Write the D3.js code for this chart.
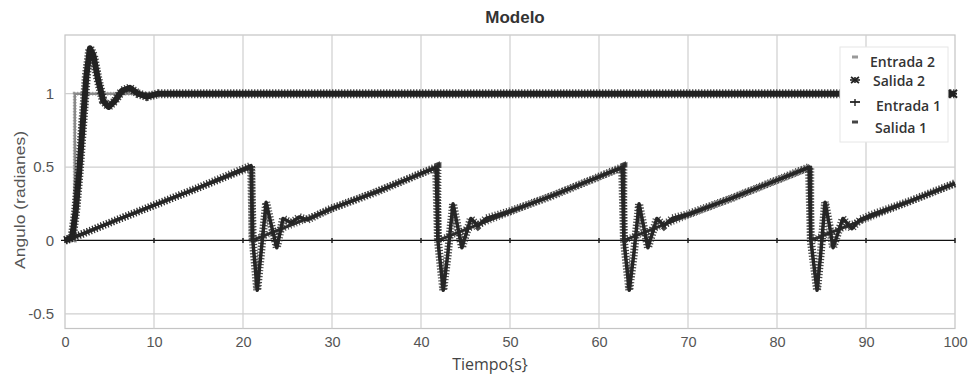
<!DOCTYPE html>
<html>
<head>
<meta charset="utf-8">
<script src="https://cdn.jsdelivr.net/npm/d3@7/dist/d3.min.js"></script>
<style>
  html, body { margin: 0; padding: 0; background: #fff; }
  svg { display: block; }
</style>
</head>
<body>
<svg id="chart" width="970" height="375"></svg>
<script>
// Axis ticks
const xTicks = [0, 10, 20, 30, 40, 50, 60, 70, 80, 90, 100];
const yTicks = [-0.5, 0, 0.5, 1];

// Series as [tiempo (s), ángulo (rad)]
const entrada2 = [[0, 0], [1.1, 0], [1.1, 1], [100, 1]];

const salida2 = [
  [0, 0], [0.8, 0.02], [1.2, 0.2], [1.6, 0.47], [2.0, 0.8], [2.4, 1.12], [2.8, 1.31],
  [3.2, 1.26], [3.7, 1.1], [4.3, 0.95], [4.9, 0.91], [5.6, 0.95], [6.4, 1.02],
  [7.3, 1.04], [8.2, 1.0], [9.2, 0.98], [10.5, 1.0], [100, 1.0]
];

const entrada1 = [
  [0, 0], [21.0, 0.5], [21.0, 0], [41.9, 0.5], [41.9, 0],
  [62.8, 0.5], [62.8, 0], [83.8, 0.5], [83.8, 0], [100, 0.386]
];

const salida1 = [
  [0, 0], [1, 0.02], [5, 0.12], [10, 0.24], [15, 0.36], [20.9, 0.51],
  [21.1, 0.0], [21.6, -0.34], [22.0, -0.1], [22.6, 0.26], [23.2, 0.1], [23.8, -0.05],
  [24.5, 0.15], [25.4, 0.12], [26.3, 0.16], [27.2, 0.14], [30, 0.22], [35, 0.33], [41.7, 0.5],
  [41.9, 0.0], [42.5, -0.34], [43.0, -0.1], [43.6, 0.25], [44.1, 0.1], [44.6, -0.05],
  [45.6, 0.15], [46.4, 0.1], [47.3, 0.15], [50, 0.2], [55, 0.31], [62.6, 0.5],
  [62.8, 0.0], [63.4, -0.34], [63.9, -0.1], [64.5, 0.25], [65.0, 0.1], [65.5, -0.05],
  [66.5, 0.15], [67.3, 0.1], [68.2, 0.15], [70, 0.18], [75, 0.29], [83.6, 0.5],
  [83.8, 0.0], [84.5, -0.34], [84.9, -0.1], [85.4, 0.26], [85.9, 0.1], [86.3, -0.05],
  [87.4, 0.15], [88.4, 0.08], [89.3, 0.14], [90.4, 0.17], [95, 0.27], [100, 0.39]
];

const legendItems = ["Entrada 2", "Salida 2", "Entrada 1", "Salida 1"];

const svg = d3.select("#chart");
const plot = { left: 65, right: 955, top: 35, bottom: 328.5 };

const x = d3.scaleLinear().domain([0, 100]).range([plot.left, plot.right]);
const y = d3.scaleLinear().domain([-0.6, 1.4]).range([plot.bottom, plot.top]);

// Title
svg.append("text")
  .attr("x", 515).attr("y", 23)
  .attr("text-anchor", "middle")
  .attr("font-family", "Liberation Sans, Arial, sans-serif")
  .attr("font-weight", "bold").attr("font-size", 17)
  .attr("fill", "#333")
  .text("Modelo");

// Plot frame
svg.append("rect")
  .attr("x", plot.left).attr("y", plot.top)
  .attr("width", plot.right - plot.left).attr("height", plot.bottom - plot.top)
  .attr("fill", "#fff").attr("stroke", "#c4c4c4").attr("stroke-width", 1.2);

// Gridlines
const grid = svg.append("g");
grid.selectAll("line.vx").data(xTicks.slice(1, -1)).join("line")
  .attr("x1", d => x(d)).attr("x2", d => x(d))
  .attr("y1", plot.top).attr("y2", plot.bottom)
  .attr("stroke", "#cfcfcf").attr("stroke-width", 1.2);
grid.selectAll("line.hy").data(yTicks.filter(d => d !== 0)).join("line")
  .attr("x1", plot.left).attr("x2", plot.right)
  .attr("y1", d => y(d)).attr("y2", d => y(d))
  .attr("stroke", "#cfcfcf").attr("stroke-width", 1.2);

// Tick labels
const tickFont = "Liberation Sans, Arial, sans-serif";
const xAxis = svg.append("g")
  .attr("transform", `translate(0,${plot.bottom})`)
  .call(d3.axisBottom(x).tickValues(xTicks).tickSize(0).tickPadding(8).tickFormat(d3.format("d")));
xAxis.select(".domain").remove();
xAxis.selectAll("text").attr("font-family", tickFont).attr("font-size", 14.5).attr("fill", "#555");

const yAxis = svg.append("g")
  .attr("transform", `translate(${plot.left},0)`)
  .call(d3.axisLeft(y).tickValues(yTicks).tickSize(0).tickPadding(11).tickFormat(d => String(d)));
yAxis.select(".domain").remove();
yAxis.selectAll("text").attr("font-family", tickFont).attr("font-size", 15).attr("fill", "#555");

// Horizontal axis line at zero with small tick marks
svg.append("line")
  .attr("x1", plot.left - 4).attr("x2", plot.right)
  .attr("y1", y(0)).attr("y2", y(0))
  .attr("stroke", "#111").attr("stroke-width", 1.3);
svg.append("g").selectAll("line").data(xTicks).join("line")
  .attr("x1", d => x(d)).attr("x2", d => x(d))
  .attr("y1", y(0) - 2.5).attr("y2", y(0) + 2.5)
  .attr("stroke", "#222").attr("stroke-width", 1.5);

// Axis titles
svg.append("text")
  .attr("x", 490).attr("y", 370)
  .attr("text-anchor", "middle")
  .attr("font-family", "Open Sans, sans-serif").attr("font-size", 16)
  .attr("fill", "#444")
  .text("Tiempo{s}");
svg.append("text")
  .attr("transform", "translate(25,200) rotate(-90)")
  .attr("text-anchor", "middle")
  .attr("font-family", tickFont).attr("font-size", 15)
  .attr("textLength", 138).attr("lengthAdjust", "spacingAndGlyphs")
  .attr("fill", "#555")
  .text("Angulo (radianes)");

// Series: a core line plus a dense dash pattern that reads as packed markers
const line = d3.line().x(d => x(d[0])).y(d => y(d[1]));
const series = svg.append("g");

function drawSeries(data, core, marks) {
  series.append("path").datum(data).attr("d", line)
    .attr("fill", "none").attr("stroke", core.color)
    .attr("stroke-width", core.width).attr("stroke-linejoin", "round");
  series.append("path").datum(data).attr("d", line)
    .attr("fill", "none").attr("stroke", marks.color)
    .attr("stroke-width", marks.width).attr("stroke-dasharray", marks.dash)
    .attr("stroke-opacity", marks.opacity);
}

drawSeries(entrada2, { color: "#8a8a8a", width: 2.5 }, { color: "#8a8a8a", width: 4, dash: "1 2", opacity: 0.8 });
drawSeries(entrada1, { color: "#2e2e2e", width: 3 }, { color: "#2e2e2e", width: 7, dash: "1 2", opacity: 0.85 });
drawSeries(salida1, { color: "#262626", width: 3.5 }, { color: "#262626", width: 8, dash: "1.2 1.8", opacity: 0.85 });
drawSeries(salida2, { color: "#222", width: 6 }, { color: "#222", width: 9, dash: "1.3 1.7", opacity: 0.85 });

// Legend
const legend = svg.append("g");
legend.append("rect")
  .attr("x", 840).attr("y", 47).attr("width", 108).attr("height", 95)
  .attr("fill", "#fff").attr("stroke", "#e6e6e6");

const legendY = [62, 81, 106, 128];
const legendX = [870, 873, 876, 875];
legend.selectAll("text.item").data(legendItems).join("text")
  .attr("x", (d, i) => legendX[i]).attr("y", (d, i) => legendY[i] + 5)
  .attr("font-family", "Open Sans, sans-serif").attr("font-weight", 600).attr("font-size", 14)
  .attr("fill", "#333")
  .text(d => d);

// Legend symbols
const sx = 855;
legend.append("line").attr("x1", sx - 3).attr("x2", sx + 3).attr("y1", 57).attr("y2", 57)
  .attr("stroke", "#999").attr("stroke-width", 3);
const star = legend.append("g").attr("transform", `translate(${sx},80)`);
[[-5, 0, 5, 0], [-4, -3, 4, 3], [-4, 3, 4, -3], [0, -3, 0, 3]].forEach(s =>
  star.append("line").attr("x1", s[0]).attr("y1", s[1]).attr("x2", s[2]).attr("y2", s[3])
    .attr("stroke", "#222").attr("stroke-width", 1.6));
legend.append("line").attr("x1", sx - 5).attr("x2", sx + 5).attr("y1", 102).attr("y2", 102)
  .attr("stroke", "#222").attr("stroke-width", 1.8);
legend.append("line").attr("x1", sx).attr("x2", sx).attr("y1", 99).attr("y2", 106)
  .attr("stroke", "#222").attr("stroke-width", 1.4);
legend.append("line").attr("x1", sx - 3).attr("x2", sx + 3).attr("y1", 122).attr("y2", 122)
  .attr("stroke", "#444").attr("stroke-width", 3);

// Salida 2 marker visible to the right of the legend box
const tail = svg.append("g").attr("transform", `translate(${x(100) - 2},${y(1)})`);
[[-4, -4, 4, 4], [-4, 4, 4, -4], [-4, 0, 4, 0]].forEach(s =>
  tail.append("line").attr("x1", s[0]).attr("y1", s[1]).attr("x2", s[2]).attr("y2", s[3])
    .attr("stroke", "#222").attr("stroke-width", 2));
</script>
</body>
</html>
